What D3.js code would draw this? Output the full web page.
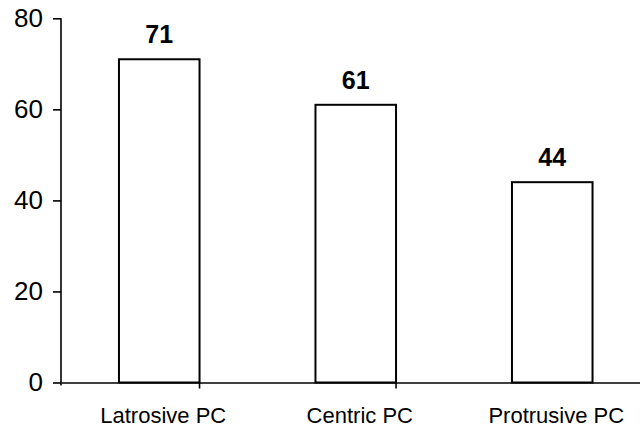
<!DOCTYPE html>
<html>
<head>
<meta charset="UTF-8">
<script src="https://d3js.org/d3.v7.min.js"></script>
<style>
  body { margin: 0; background: #fff; }
  svg { display: block; font-family: "Liberation Sans", Arial, sans-serif; }
  .axis path, .axis line { stroke: #000; stroke-width: 1.6px; }
  .axis text { fill: #000; }
</style>
</head>
<body>
<div id="chart"></div>
<script>
  // data
  const categories = ["Latrosive PC", "Centric PC", "Protrusive PC"];
  const values = [71, 61, 44];
  const yTicks = [0, 20, 40, 60, 80];

  const width = 640, height = 431;
  const x0 = 61, step = 196.5;

  const svg = d3.select("#chart").append("svg")
    .attr("width", width).attr("height", height);

  const x = d3.scaleBand()
    .domain(categories)
    .range([x0, x0 + step * categories.length])
    .paddingInner(0.59)
    .paddingOuter(0.295);

  const y = d3.scaleLinear().domain([0, 80]).range([382.5, 18.3]);

  // bars
  svg.selectAll(".bar")
    .data(categories)
    .enter().append("rect")
    .attr("class", "bar")
    .attr("x", d => x(d))
    .attr("y", (d, i) => y(values[i]))
    .attr("width", x.bandwidth())
    .attr("height", (d, i) => y(0) - y(values[i]))
    .attr("fill", "#fff")
    .attr("stroke", "#000")
    .attr("stroke-width", 2);

  // value labels
  svg.selectAll(".val")
    .data(categories)
    .enter().append("text")
    .attr("class", "val")
    .attr("x", d => x(d) + x.bandwidth() / 2)
    .attr("y", (d, i) => y(values[i]) - 16)
    .attr("text-anchor", "middle")
    .attr("font-size", 25)
    .attr("font-weight", "bold")
    .text((d, i) => values[i]);

  // y axis
  svg.append("g")
    .attr("class", "axis")
    .attr("transform", `translate(${x0},0)`)
    .call(d3.axisLeft(y).tickValues(yTicks).tickSize(8).tickSizeOuter(0).tickPadding(10))
    .call(g => g.selectAll("text").attr("font-size", 26).attr("font-family", "Liberation Sans, Arial, sans-serif"))
    .call(g => g.select(".domain").attr("d", `M0,${y(80)}V${y(0) + 3}`));

  // x axis
  const xAxis = svg.append("g")
    .attr("class", "axis")
    .attr("transform", `translate(0,${y(0)})`)
    .call(d3.axisBottom(x).tickSize(0).tickSizeOuter(0).tickPadding(25))
    .call(g => g.selectAll("text").attr("font-size", 22).attr("dx", 4).attr("font-family", "Liberation Sans, Arial, sans-serif"));

  // category boundary ticks
  xAxis.selectAll(".sep")
    .data(categories.slice(1))
    .enter().append("line")
    .attr("class", "sep")
    .attr("x1", d => x(d) - x.step() * x.paddingInner())
    .attr("x2", d => x(d) - x.step() * x.paddingInner())
    .attr("y1", 0).attr("y2", 6)
    .attr("stroke", "#000").attr("stroke-width", 1.6);
</script>
</body>
</html>
